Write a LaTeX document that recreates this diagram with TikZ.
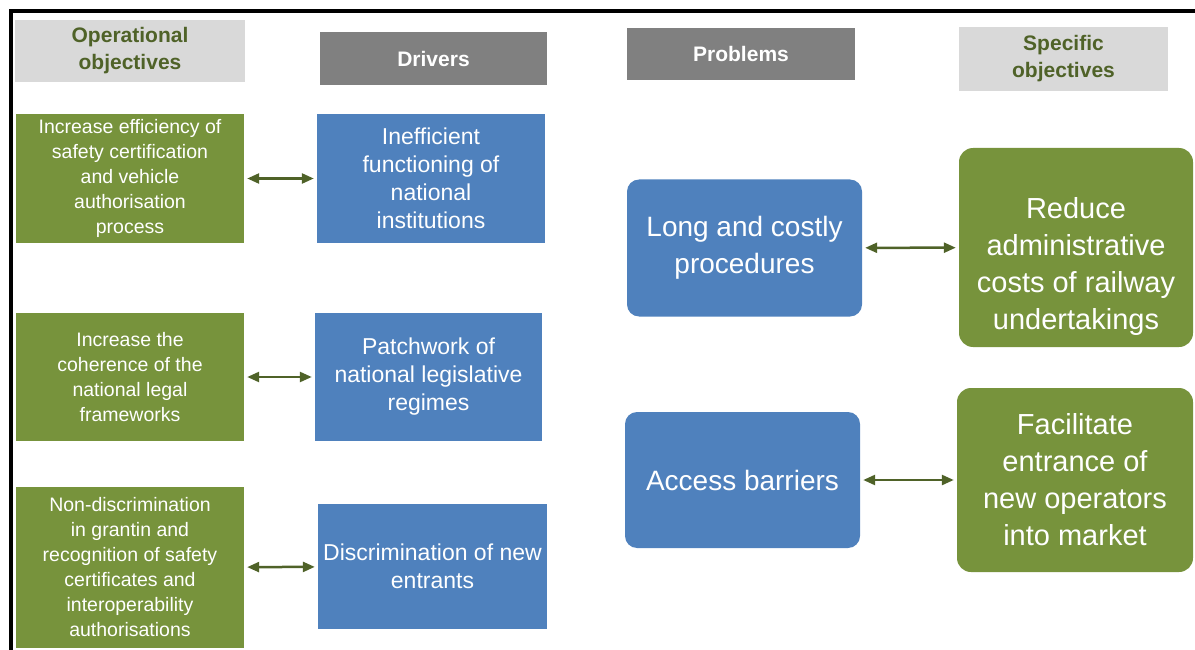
\documentclass[tikz,border=0pt]{standalone}
\usepackage{fontspec}
\setmainfont{Liberation Sans}
\usetikzlibrary{arrows.meta}

\definecolor{opgreen}{HTML}{77933C}
\definecolor{drvblue}{HTML}{4F81BD}
\definecolor{darkgreen}{HTML}{4F6228}
\definecolor{headgray}{HTML}{808080}
\definecolor{lightgray}{HTML}{D9D9D9}

\begin{document}
\begin{tikzpicture}[x=1pt,y=-1pt]

      \useasboundingbox (0,0) rectangle (1195,650);
      \draw[line width=4pt] (1195,11) -- (11,11) -- (11,650);

      % column headers
      \begin{scope}[every node/.style={inner sep=0pt,align=center,font=\bfseries\fontsize{21}{27}\selectfont}]
        \node[fill=lightgray,text=darkgreen,minimum width=230pt,minimum height=62pt] (hop) at (130,51) {Operational\\objectives};
        \node[fill=headgray,text=white,minimum width=227pt,minimum height=53pt] (hdr) at (433.5,58.5) {Drivers};
        \node[fill=headgray,text=white,minimum width=228pt,minimum height=52pt] (hpr) at (741,54) {Problems};
        \node[fill=lightgray,text=darkgreen,minimum width=209pt,minimum height=64pt] (hsp) at (1063.5,59) {Specific\\objectives};
      \end{scope}

      % operational objectives
      \begin{scope}[every node/.style={fill=opgreen,text=white,inner sep=0pt,align=center,minimum width=228pt,font=\fontsize{19.5}{25}\selectfont}]
        \node[minimum height=129pt] (o1) at (130,178.5) {Increase efficiency of\\safety certification\\and vehicle\\authorisation\\process};
        \node[minimum height=128pt] (o2) at (130,377) {Increase the\\coherence of the\\national legal\\frameworks};
        \node[minimum height=161pt] (o3) at (130,567.5) {Non-discrimination\\in grantin and\\recognition of safety\\certificates and\\interoperability\\authorisations};
      \end{scope}

      % drivers
      \begin{scope}[every node/.style={fill=drvblue,text=white,inner sep=0pt,align=center,font=\fontsize{23}{28}\selectfont}]
        \node[minimum width=228pt,minimum height=129pt] (d1) at (431,178.5) {Inefficient\\functioning of\\national\\institutions};
        \node[minimum width=227pt,minimum height=128pt] (d2) at (428.5,377) {Patchwork of\\national legislative\\regimes};
        \node[minimum width=229pt,minimum height=125pt] (d3) at (432.5,566.5) {Discrimination of new\\entrants};
      \end{scope}

      % problems
      \begin{scope}[every node/.style={fill=drvblue,text=white,rounded corners=12pt,inner sep=0pt,align=center,minimum width=235pt,font=\fontsize{28}{37}\selectfont}]
        \node[minimum height=137pt] (p1) at (744.5,248) {Long and costly\\procedures};
        \node[minimum height=136pt] (p2) at (742.5,480) {Access barriers};
      \end{scope}

      % specific objectives
      \begin{scope}[every node/.style={fill=opgreen,text=white,rounded corners=14pt,inner sep=0pt,align=center,font=\fontsize{29}{37}\selectfont}]
        \node[minimum width=234pt,minimum height=199pt] (s1) at (1076,247.5) {};
        \node[fill=none] (s1text) at (1076,266.5) {Reduce\\administrative\\costs of railway\\undertakings};
        \node[minimum width=236pt,minimum height=184pt] (s2) at (1075,480) {Facilitate\\entrance of\\new operators\\into market};
      \end{scope}

      \begin{scope}[every edge/.style={draw=darkgreen,line width=2.5pt,{Triangle[length=12pt,width=10pt]}-{Triangle[length=12pt,width=10pt]},shorten <=3pt,shorten >=3pt}]
        \path (o1) edge (d1);
        \path (o2) edge (d2);
        \path (o3) edge (d3);
        \path (p1) edge (s1);
        \path (p2) edge (s2);
      \end{scope}

    \end{tikzpicture}
\end{document}
